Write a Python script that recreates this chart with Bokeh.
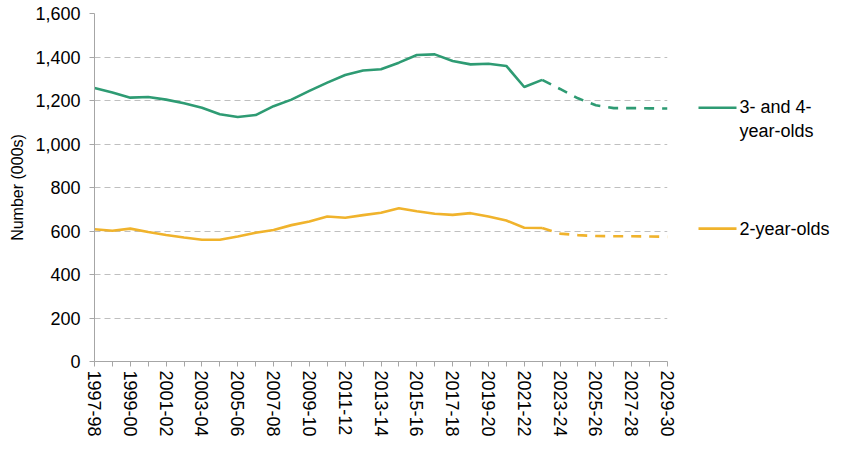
from bokeh.plotting import figure
from bokeh.layouts import row
from bokeh.models import Range1d, FixedTicker, ColumnDataSource, NumeralTickFormatter
from bokeh.core.properties import value
from bokeh.embed import file_html
from bokeh.resources import INLINE

years = ["1997-98", "1998-99", "1999-00", "2000-01", "2001-02", "2002-03", "2003-04",
         "2004-05", "2005-06", "2006-07", "2007-08", "2008-09", "2009-10", "2010-11",
         "2011-12", "2012-13", "2013-14", "2014-15", "2015-16", "2016-17", "2017-18",
         "2018-19", "2019-20", "2020-21", "2021-22", "2022-23", "2023-24", "2024-25",
         "2025-26", "2026-27", "2027-28", "2028-29", "2029-30"]

three_four = [1257, 1237, 1213, 1216, 1204, 1187, 1167, 1137, 1124, 1133, 1174, 1204,
              1244, 1282, 1317, 1338, 1344, 1374, 1409, 1412, 1382, 1366, 1369, 1359,
              1262, 1295, 1253, 1210, 1178, 1165, 1165, 1164, 1163]

two = [608, 601, 611, 595, 582, 570, 560, 560, 575, 592, 605, 627, 644, 667, 661, 673,
       684, 705, 691, 679, 674, 682, 667, 648, 615, 614, 588, 581, 577, 576, 576, 575, 573]

last_actual = 25  # 2022-23; projections dashed afterwards
series_names = ["3- and 4-\nyear-olds", "2-year-olds"]
colors = ["#2e9b73", "#f0b32c"]
y_ticks = [0, 200, 400, 600, 800, 1000, 1200, 1400, 1600]

# layout constants (legend placement, in legend-panel units)
legend_y = [1167, 611]

FONT = "Liberation Sans"
TOP, BOTTOM, H = 13, 82, 443
yr = Range1d(0, 1600)

p = figure(width=679, height=H, output_backend="svg", toolbar_location=None,
           x_range=Range1d(0, len(years) - 1), y_range=yr,
           min_border_left=94, min_border_right=12, min_border_top=TOP, min_border_bottom=BOTTOM)
p.outline_line_color = None

xs = list(range(len(years)))
for vals, col in zip([three_four, two], colors):
    src_a = ColumnDataSource(dict(x=xs[:last_actual + 1], y=vals[:last_actual + 1]))
    src_p = ColumnDataSource(dict(x=xs[last_actual:], y=vals[last_actual:]))
    p.line("x", "y", source=src_a, line_color=col, line_width=2.6)
    p.line("x", "y", source=src_p, line_color=col, line_width=2.6, line_dash="10 8")

p.xaxis.ticker = FixedTicker(ticks=xs)
p.xaxis.major_label_overrides = {i: (years[i] if i % 2 == 0 else "") for i in xs}
p.xaxis.major_label_orientation = "vertical"
p.yaxis.ticker = FixedTicker(ticks=y_ticks)
p.yaxis.formatter = NumeralTickFormatter(format="0,0")
for ax in (p.xaxis, p.yaxis):
    ax.axis_line_color = "#a6a6a6"
    ax.major_tick_line_color = "#a6a6a6"
    ax.minor_tick_line_color = None
    ax.major_tick_out = 5
    ax.major_tick_in = 0
    ax.major_label_text_font = FONT
    ax.major_label_text_font_size = "18px"
    ax.major_label_text_color = "#000000"
p.xaxis.major_label_standoff = 4
p.yaxis.major_label_standoff = 9
p.yaxis.axis_label = "Number (000s)"
p.yaxis.axis_label_text_font = FONT
p.yaxis.axis_label_text_font_size = "16px"
p.yaxis.axis_label_text_font_style = "normal"
p.yaxis.axis_label_text_color = "#000000"
p.yaxis.axis_label_standoff = 6

p.xgrid.grid_line_color = None
p.ygrid.grid_line_color = "#bfbfbf"
p.ygrid.grid_line_dash = "6 4"
p.ygrid.grid_line_width = 1

# legend panel on the right, sharing the y scale
lg = figure(width=160, height=H, output_backend="svg", toolbar_location=None,
            x_range=Range1d(0, 160), y_range=yr, x_axis_type=None, y_axis_type=None,
            min_border_left=0, min_border_right=0, min_border_top=TOP, min_border_bottom=BOTTOM)
lg.outline_line_color = None
lg.xgrid.grid_line_color = None
lg.ygrid.grid_line_color = None
for name, col, yv in zip(series_names, colors, legend_y):
    lg.line([19, 57], [yv, yv], line_color=col, line_width=2.6)
    lg.text(x=[60], y=[yv], text=[name], text_font=value(FONT), text_font_size="18px",
            text_color="#000000", text_baseline="top" if "\n" in name else "middle",
            y_offset=-11 if "\n" in name else 0, text_line_height=1.2)

layout = row(p, lg, spacing=0)
open("out.html", "w").write(file_html(layout, INLINE))
